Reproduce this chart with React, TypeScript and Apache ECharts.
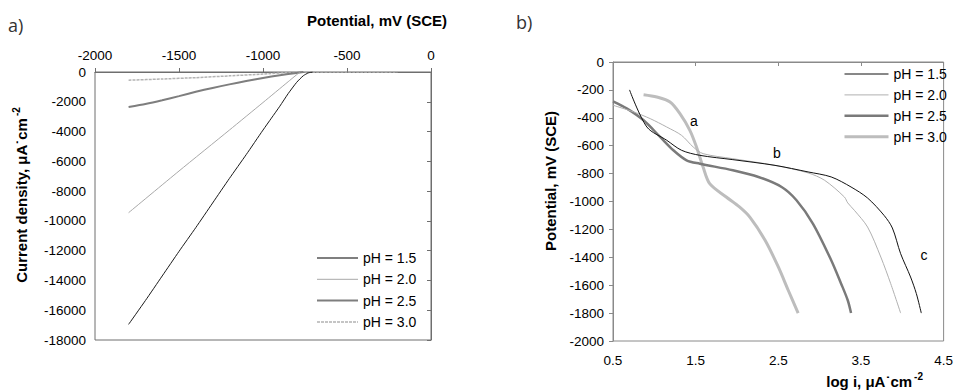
import React, { useEffect, useRef } from "react";
import * as echarts from "echarts";

// ---- Chart a) : Potential (mV SCE) vs current density (µA cm-2)
const aNames = ["pH = 1.5", "pH = 2.0", "pH = 2.5", "pH = 3.0"];
const aE15 = [-1800, -1700, -1600, -1500, -1400, -1300, -1200, -1100, -1000, -950, -900, -850, -800, -760, -730, -705];
const aI15 = [-16950, -15350, -13700, -12050, -10450, -8800, -7150, -5550, -3900, -3100, -2300, -1450, -700, -250, -60, 0];
const aE20 = [-1800, -1500, -1200, -1000, -850, -780];
const aI20 = [-9450, -6650, -3900, -2050, -650, 0];
const aE25 = [-1800, -1700, -1600, -1500, -1400, -1300, -1200, -1100, -1000, -900, -800, -760];
const aI25 = [-2350, -2150, -1900, -1620, -1330, -1070, -830, -610, -400, -220, -60, 0];
const aE30 = [-1800, -1600, -1400, -1200, -1000, -850, -780, -500, -200];
const aI30 = [-550, -470, -380, -260, -140, -40, 0, 0, 0];

// ---- Chart b) : log i vs potential
const bL15 = [0.70, 0.91, 1.15, 1.33, 1.55, 1.95, 2.46, 2.86, 3.14, 3.38, 3.58, 3.78, 3.88, 3.98, 4.10, 4.17, 4.23];
const bE15 = [-200, -466, -561, -633, -669, -700, -741, -788, -824, -896, -975, -1100, -1190, -1374, -1541, -1660, -1800];
const bL20 = [0.5, 0.75, 0.95, 1.15, 1.33, 1.47, 1.59, 1.95, 2.46, 2.86, 3.06, 3.30, 3.34, 3.42, 3.58, 3.74, 3.86, 3.98];
const bE20 = [-310, -358, -406, -466, -526, -609, -657, -693, -741, -795, -848, -968, -1010, -1063, -1183, -1398, -1589, -1800];
const bL25 = [0.5, 0.67, 0.87, 1.07, 1.23, 1.39, 1.55, 1.95, 2.26, 2.54, 2.72, 2.92, 3.14, 3.26, 3.34, 3.38];
const bE25 = [-282, -334, -418, -537, -633, -705, -729, -776, -824, -896, -991, -1160, -1421, -1589, -1708, -1800];
const bL30 = [0.87, 1.03, 1.19, 1.31, 1.43, 1.51, 1.59, 1.67, 1.87, 2.03, 2.16, 2.34, 2.50, 2.62, 2.74];
const bE30 = [-234, -251, -287, -370, -490, -609, -753, -872, -968, -1039, -1115, -1278, -1469, -1636, -1800];

const bNotes = ["a", "b", "c"];

const FONT = "'Liberation Sans', Arial, sans-serif";

function pairs(xs: number[], ys: number[]) {
  return xs.map((x, i) => [x, ys[i]]);
}

const aStyles = [
  { color: "#1a1a1a", width: 1, type: "solid" },
  { color: "#a8a8a8", width: 1, type: "solid" },
  { color: "#7e7e7e", width: 2, type: "solid" },
  { color: "#b3b3b3", width: 1.5, type: [3, 1] },
];
const bStyles = [
  { color: "#111111", width: 1, type: "solid" },
  { color: "#b0b0b0", width: 1, type: "solid" },
  { color: "#7a7a7a", width: 2.5, type: "solid" },
  { color: "#bdbdbd", width: 3, type: "solid" },
];

export default function App() {
  const ref = useRef<HTMLDivElement>(null);
  useEffect(() => {
    document.body.style.margin = "0";
    if (!ref.current) return;
    const chart = echarts.init(ref.current, undefined, { renderer: "svg" });
    const aData = [pairs(aE15, aI15), pairs(aE20, aI20), pairs(aE25, aI25), pairs(aE30, aI30)];
    const bData = [pairs(bL15, bE15), pairs(bL20, bE20), pairs(bL25, bE25), pairs(bL30, bE30)];

    const plain = (v: number) => String(v);
    const axisCommon = {
      axisLine: { show: true, lineStyle: { color: "#6e6e6e", width: 1 } },
      axisTick: { show: true, length: 4, lineStyle: { color: "#6e6e6e" } },
      splitLine: { show: false },
      axisLabel: { color: "#000", fontFamily: FONT, fontSize: 13.5, formatter: plain },
    };

    const series: any[] = [];
    aNames.forEach((n, i) => {
      series.push({
        type: "line", name: n, xAxisIndex: 0, yAxisIndex: 0, data: aData[i],
        symbol: "none", smooth: 0.2, lineStyle: aStyles[i], itemStyle: { color: aStyles[i].color },
        z: 10 - i,
      });
    });
    aNames.forEach((n, i) => {
      series.push({
        type: "line", name: n, xAxisIndex: 1, yAxisIndex: 1, data: bData[i],
        symbol: "none", smooth: 0.3, lineStyle: bStyles[i], itemStyle: { color: bStyles[i].color },
        z: 10 - i,
      });
    });

    const legendText = { color: "#000", fontFamily: FONT, fontSize: 14 };

    const option: any = {
      animation: false,
      backgroundColor: "#fff",
      grid: [
        { left: 95, top: 72, width: 336, height: 268, show: true, borderColor: "#6e6e6e", borderWidth: 1, backgroundColor: "transparent" },
        { left: 613, top: 62, width: 334, height: 279, show: true, borderColor: "#8a8a8a", borderWidth: 1, backgroundColor: "transparent" },
      ],
      xAxis: [
        {
          ...axisCommon, type: "value", gridIndex: 0, position: "top", min: -2000, max: 0, interval: 500,
          axisLabel: { ...axisCommon.axisLabel, margin: 10 },
        },
        {
          ...axisCommon, type: "value", gridIndex: 1, position: "bottom", min: 0.5, max: 4.5, interval: 1,
          axisLine: { show: true, lineStyle: { color: "#8a8a8a" } },
          axisTick: { show: true, length: 4, lineStyle: { color: "#8a8a8a" } },
          axisLabel: { ...axisCommon.axisLabel, margin: 12, formatter: (v: number) => v.toFixed(1) },
        },
      ],
      yAxis: [
        {
          ...axisCommon, type: "value", gridIndex: 0, min: -18000, max: 0, interval: 2000,
          axisLabel: { ...axisCommon.axisLabel, margin: 9 },
        },
        {
          ...axisCommon, type: "value", gridIndex: 1, min: -2000, max: 0, interval: 200,
          axisLine: { show: true, lineStyle: { color: "#8a8a8a" } },
          axisTick: { show: true, length: 4, lineStyle: { color: "#8a8a8a" } },
          axisLabel: { ...axisCommon.axisLabel, margin: 9 },
        },
      ],
      legend: [
        {
          orient: "vertical", left: 316, top: 251, padding: 0, itemWidth: 41, itemHeight: 14, itemGap: 7.3,
          textStyle: legendText, itemStyle: { opacity: 0, borderWidth: 0 },
          data: aNames.map((n, i) => ({
            name: n,
            lineStyle: i === 0 ? { color: "#555", width: 1.5 } : { ...aStyles[i] },
          })),
        },
        {
          orient: "vertical", left: 843, top: 67, padding: 0, itemWidth: 44, itemHeight: 14, itemGap: 6.9,
          textStyle: legendText, itemStyle: { opacity: 0, borderWidth: 0 },
          data: aNames.map((n, i) => ({ name: n, lineStyle: { ...bStyles[i] } })),
        },
      ],
      series,
      graphic: [
        { type: "text", left: 8, top: 16, style: { text: "a)", fontFamily: "'Open Sans', sans-serif", fontSize: 18, fill: "#333" } },
        { type: "text", left: 516, top: 13, style: { text: "b)", fontFamily: "'Open Sans', sans-serif", fontSize: 18, fill: "#333" } },
        {
          type: "text", x: 447, y: 20,
          style: { text: "Potential, mV (SCE)", fontFamily: FONT, fontSize: 15, fontWeight: "bold", fill: "#000", align: "right", verticalAlign: "middle" },
        },
        {
          type: "text", x: 21, y: 195, rotation: Math.PI / 2,
          style: {
            text: "Current density, μA˙cm{s|-2}",
            rich: { s: { fontSize: 10, fontWeight: "bold", fontFamily: FONT, padding: [0, 0, 9, 2] } },
            fontFamily: FONT, fontSize: 15, fontWeight: "bold", fill: "#000", align: "center", verticalAlign: "middle",
          },
        },
        {
          type: "text", x: 550, y: 181, rotation: Math.PI / 2,
          style: { text: "Potential, mV (SCE)", fontFamily: FONT, fontSize: 15, fontWeight: "bold", fill: "#000", align: "center", verticalAlign: "middle" },
        },
        {
          type: "text", x: 923, y: 381,
          style: {
            text: "log i, μA˙cm{s|-2}",
            rich: { s: { fontSize: 10, fontWeight: "bold", fontFamily: FONT, padding: [0, 0, 9, 2] } },
            fontFamily: FONT, fontSize: 15, fontWeight: "bold", fill: "#000", align: "right", verticalAlign: "middle",
          },
        },
        { type: "text", x: 694, y: 121, style: { text: bNotes[0], fontFamily: FONT, fontSize: 14, fill: "#000", align: "center", verticalAlign: "middle" } },
        { type: "text", x: 777, y: 153, style: { text: bNotes[1], fontFamily: FONT, fontSize: 14, fill: "#000", align: "center", verticalAlign: "middle" } },
        { type: "text", x: 924, y: 255, style: { text: bNotes[2], fontFamily: FONT, fontSize: 14, fill: "#000", align: "center", verticalAlign: "middle" } },
      ],
    };
    chart.setOption(option);
    return () => chart.dispose();
  }, []);
  return <div ref={ref} style={{ width: 956, height: 391 }} />;
}
